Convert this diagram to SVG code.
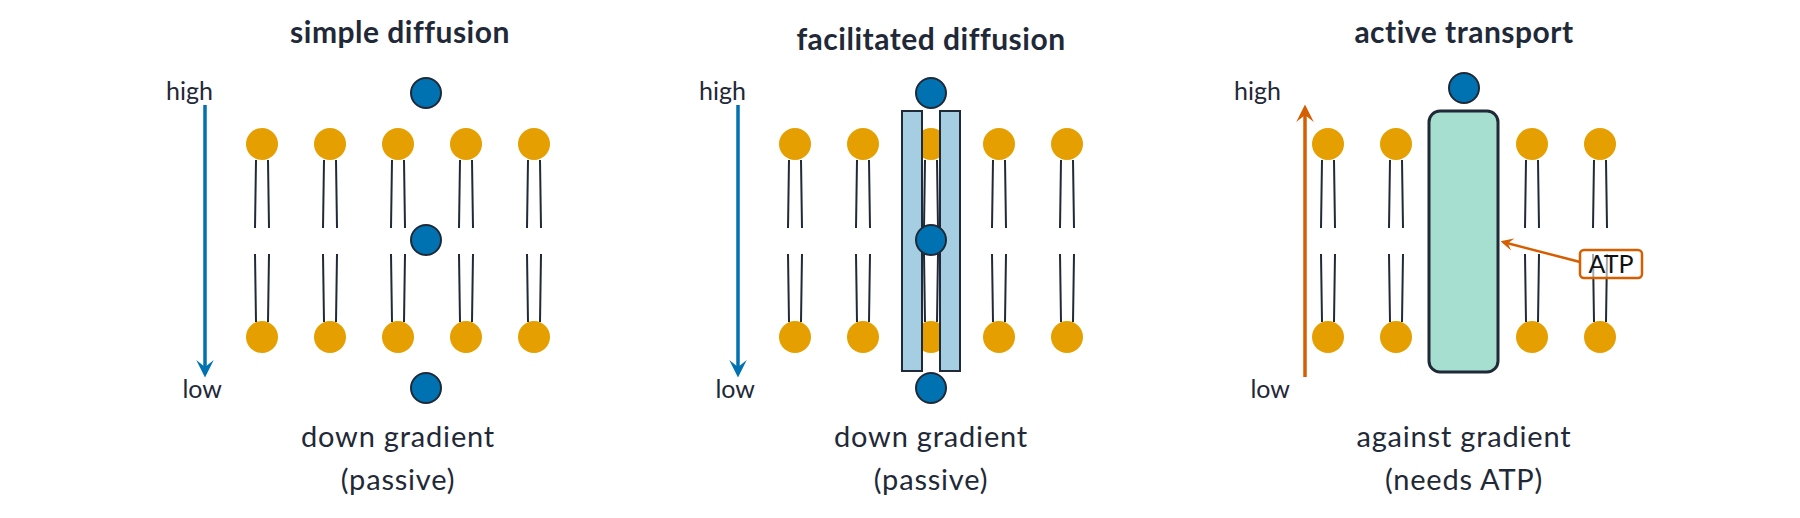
<svg xmlns="http://www.w3.org/2000/svg" width="1800" height="518" viewBox="0 0 1800 518">
<defs>
<style>
text{font-family:"Lato","Liberation Sans",sans-serif;fill:#1f2937}
.t{font-size:30px;font-weight:bold;text-anchor:middle;letter-spacing:0.5px}
.c{font-size:29px;text-anchor:middle;letter-spacing:0.8px}
.l{font-size:25px}
.h{fill:#e69f00}
.tail{stroke:#1f2937;stroke-width:2;fill:none}
.p{fill:#0072b2;stroke:#1f2937;stroke-width:2}
</style>
<marker id="ab" viewBox="0 0 10 10" refX="8" refY="5" markerWidth="5" markerHeight="5" orient="auto-start-reverse"><path d="M0,0 L10,5 L0,10 L4,5 z" fill="#0072b2"/></marker>
<marker id="ao" viewBox="0 0 10 10" refX="8" refY="5" markerWidth="5" markerHeight="5" orient="auto-start-reverse"><path d="M0,0 L10,5 L0,10 L4,5 z" fill="#d55e00"/></marker>
<g id="lipid">
<circle class="h" cx="0" cy="144" r="16"/>
<circle class="h" cx="0" cy="337" r="16"/>
<path class="tail" d="M-6,160 L-7,228 M6,160 L7,228 M-7,254 L-6,322 M7,254 L6,322"/>
</g>
</defs>
<g id="panel1">
<text class="t" x="400" y="43">simple diffusion</text>
<text class="l" x="166" y="100">high</text>
<text class="l" x="222" y="398" text-anchor="end">low</text>
<use href="#lipid" x="262"/><use href="#lipid" x="330"/><use href="#lipid" x="398"/><use href="#lipid" x="466"/><use href="#lipid" x="534"/>
<circle class="p" cx="426" cy="93" r="15"/><circle class="p" cx="426" cy="240" r="15"/><circle class="p" cx="426" cy="388" r="15"/>
<text class="c" x="398" y="447">down gradient</text>
<text class="c" x="398" y="490">(passive)</text>
</g>
<g id="panel2">
<text class="t" x="931" y="50">facilitated diffusion</text>
<text class="l" x="699" y="100">high</text>
<text class="l" x="755" y="398" text-anchor="end">low</text>
<use href="#lipid" x="795"/><use href="#lipid" x="863"/><use href="#lipid" x="931"/><use href="#lipid" x="999"/><use href="#lipid" x="1067"/>
<rect x="902" y="111" width="20" height="260" fill="#a6cee3" stroke="#1f2937" stroke-width="2"/>
<rect x="940" y="111" width="20" height="260" fill="#a6cee3" stroke="#1f2937" stroke-width="2"/>
<circle class="p" cx="931" cy="93" r="15"/><circle class="p" cx="931" cy="240" r="15"/><circle class="p" cx="931" cy="388" r="15"/>
<text class="c" x="931" y="447">down gradient</text>
<text class="c" x="931" y="490">(passive)</text>
</g>
<g id="panel3">
<text class="t" x="1464" y="43">active transport</text>
<text class="l" x="1234" y="100">high</text>
<text class="l" x="1290" y="398" text-anchor="end">low</text>
<use href="#lipid" x="1328"/><use href="#lipid" x="1396"/><use href="#lipid" x="1532"/><use href="#lipid" x="1600"/>
<rect x="1429" y="111" width="69" height="261" rx="11" fill="#a6dfd0" stroke="#1f2937" stroke-width="3"/>
<circle class="p" cx="1464" cy="88" r="15"/>
<g id="atp">
<rect x="1580" y="250" width="62" height="28" rx="4" fill="#fff" fill-opacity="0.6" stroke="#d55e00" stroke-width="2.5"/>
<text x="1611" y="273" font-size="25" text-anchor="middle" style="fill:#111">ATP</text>
</g>
<text class="c" x="1464" y="447">against gradient</text>
<text class="c" x="1464" y="490">(needs ATP)</text>
</g>
<g id="connectors">
<line x1="205" y1="105" x2="205" y2="374" stroke="#0072b2" stroke-width="3.5" marker-end="url(#ab)"/>
<line x1="738" y1="105" x2="738" y2="374" stroke="#0072b2" stroke-width="3.5" marker-end="url(#ab)"/>
<line x1="1305" y1="377" x2="1305" y2="108" stroke="#d55e00" stroke-width="3.5" marker-end="url(#ao)"/>
<line x1="1580" y1="262" x2="1503" y2="242" stroke="#d55e00" stroke-width="2.5" marker-end="url(#ao)"/>
</g>
</svg>
